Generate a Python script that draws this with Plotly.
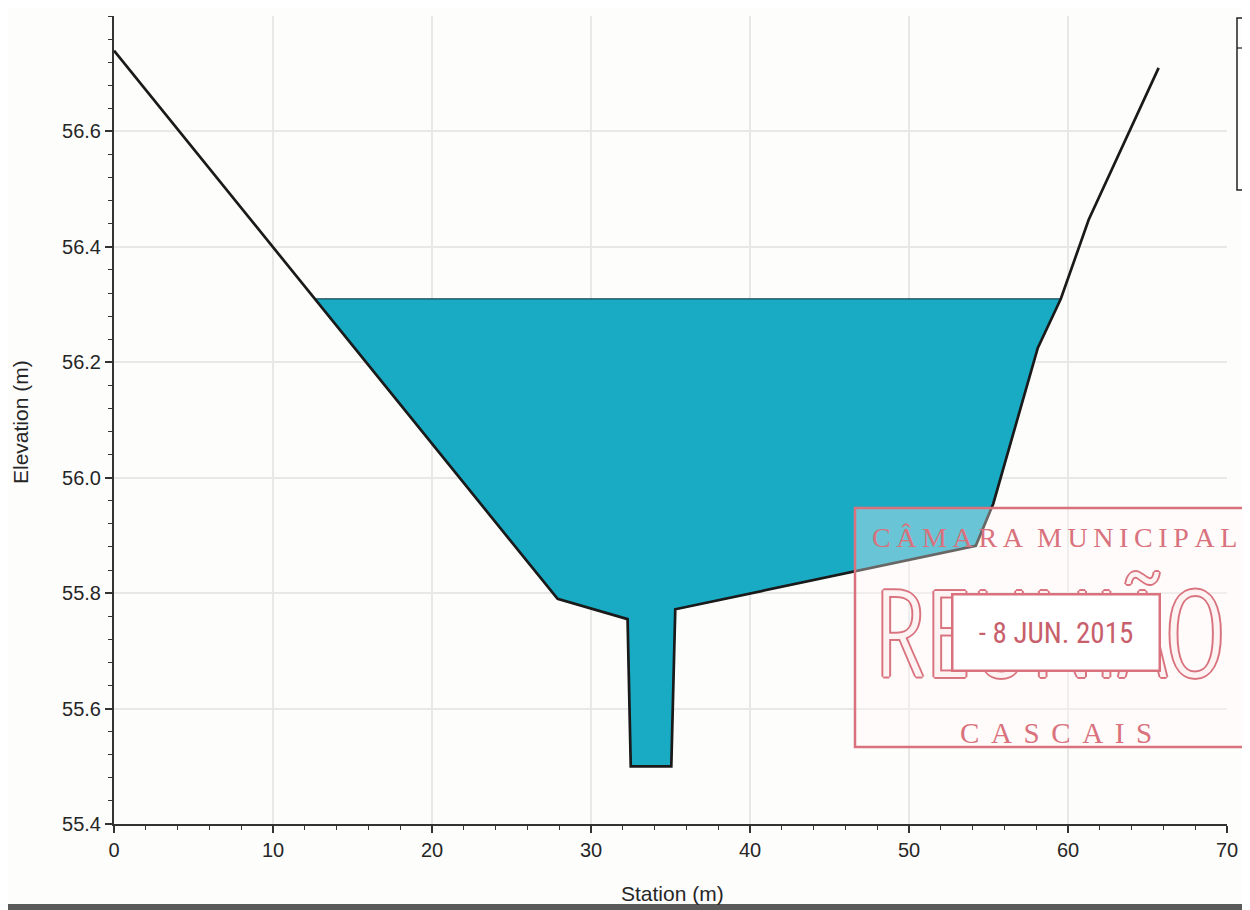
import plotly.graph_objects as go

# ---- data ----
station = [0.0, 27.9, 32.3, 32.5, 35.05, 35.3, 54.2, 55.3, 58.1, 59.55, 61.3, 65.7]
elevation = [56.74, 55.79, 55.755, 55.50, 55.50, 55.772, 55.882, 55.955, 56.225, 56.31, 56.447, 56.71]
water_surface = 56.31

x_ticks = [0, 10, 20, 30, 40, 50, 60, 70]
y_ticks = [55.4, 55.6, 55.8, 56.0, 56.2, 56.4, 56.6]

# ---- water polygon from terrain & WS ----
def crossings(xs, ys, ws):
    pts = []
    for i in range(len(xs) - 1):
        y0, y1 = ys[i], ys[i + 1]
        if (y0 > ws >= y1) or (y0 <= ws < y1):
            t = (ws - y0) / (y1 - y0)
            pts.append((i, xs[i] + t * (xs[i + 1] - xs[i])))
    return pts

cr = crossings(station, elevation, water_surface)
(i0, xl), (i1, xr) = cr[0], cr[-1]
wx = [xl] + station[i0 + 1:i1 + 1] + [xr, xl]
wy = [water_surface] + elevation[i0 + 1:i1 + 1] + [water_surface, water_surface]

fig = go.Figure()
fig.add_trace(go.Scatter(x=wx, y=wy, fill="toself", fillcolor="#1aabc4",
                         mode="lines", line=dict(color="#1d4a55", width=1.2),
                         hoverinfo="skip", showlegend=False))
fig.add_trace(go.Scatter(x=station, y=elevation, mode="lines",
                         line=dict(color="#1a1a1a", width=2.7), showlegend=False))

# page is offset by the default 8px body margin
OFF = 8
W, H = 1250 - OFF, 910 - OFF
L, R, T, B = 114, 1227, 16, 824          # plot area in page pixels
def px(x):
    return (x - L) / (R - L)
def py(y):
    return (B - y) / (B - T)

tickfont = dict(family="Liberation Sans, Arial, sans-serif", size=20, color="#262626")
fig.update_xaxes(range=[0, 70], tickvals=x_ticks, ticktext=[str(v) for v in x_ticks],
                 ticks="outside", ticklen=7, tickwidth=1.5, tickcolor="#333",
                 minor=dict(dtick=2, ticks="outside", ticklen=4, tickwidth=1.3, tickcolor="#333",
                            showgrid=False),
                 showline=True, linecolor="#333", linewidth=2,
                 showgrid=True, gridcolor="#e8e8e8", gridwidth=1.5,
                 zeroline=False, tickfont=tickfont)
fig.update_yaxes(range=[55.4, 56.8], tickvals=y_ticks, ticktext=[f"{v:.1f}" for v in y_ticks],
                 ticks="outside", ticklen=7, tickwidth=1.5, tickcolor="#333",
                 minor=dict(dtick=0.04, tick0=55.4, ticks="outside", ticklen=4, tickwidth=1.3,
                            tickcolor="#333", showgrid=False),
                 showline=True, linecolor="#333", linewidth=2,
                 showgrid=True, gridcolor="#e8e8e8", gridwidth=1.5,
                 zeroline=False, tickfont=tickfont)

stamp = "#d9727d"
shapes = [
    # legend box (cropped at the right edge)
    dict(type="rect", xref="paper", yref="paper", x0=px(1237), x1=px(1262), y0=py(190), y1=py(18),
         line=dict(color="#222", width=1.5)),
    dict(type="line", xref="paper", yref="paper", x0=px(1237), x1=px(1262), y0=py(48), y1=py(48),
         line=dict(color="#222", width=1.2)),
    # stamp frame
    dict(type="rect", xref="paper", yref="paper", x0=px(855), x1=px(1248), y0=py(747), y1=py(508),
         line=dict(color=stamp, width=2.5), fillcolor="rgba(255,245,245,0.35)", layer="above"),
    # scanner edge
    dict(type="rect", xref="paper", yref="paper", x0=px(-5), x1=px(1260), y0=py(912), y1=py(904),
         line=dict(width=0), fillcolor="#5a5a5a", layer="above"),
]

outline = ", ".join(f"{a}px {b}px 0 {stamp}" for a, b in
                    [(-1, -1), (1, -1), (-1, 1), (1, 1), (0, 2), (2, 0), (0, -2), (-2, 0)])

def ann(text, x, y, font, **kw):
    return dict(text=text, x=px(x), y=py(y), xref="paper", yref="paper", showarrow=False,
                xanchor="center", yanchor="middle", font=font, **kw)

annotations = [
    ann("Station (m)", 672, 893, dict(family="Liberation Sans, Arial, sans-serif", size=21, color="#262626")),
    ann("Elevation (m)", 20, 422, dict(family="Liberation Sans, Arial, sans-serif", size=21, color="#262626"),
        textangle=-90),
    ann("REUNIÃO", 1050, 630, dict(family="Open Sans Condensed Light, DejaVu Sans Condensed, sans-serif",
                                   size=120, color="rgba(255,250,250,0.95)", shadow=outline)),
    ann("C\u2009Â\u2009M\u2009A\u2009R\u2009A\u2002M\u2009U\u2009N\u2009I\u2009C\u2009I\u2009P\u2009A\u2009L",
        1054, 537, dict(family="Liberation Serif, serif", size=28, color=stamp)),
    ann("C\u2009\u2009A\u2009\u2009S\u2009\u2009C\u2009\u2009A\u2009\u2009I\u2009\u2009S", 1056, 733,
        dict(family="Liberation Serif, serif", size=29, color=stamp)),
    ann("- 8 JUN. 2015", 1056, 632, dict(family="Roboto Condensed, DejaVu Sans Condensed, sans-serif",
                                         size=29, color="#c8606b"),
        bgcolor="#ffffff", bordercolor=stamp, borderwidth=2.5, width=205, height=74, borderpad=0),
]

fig.update_layout(width=W, height=H,
                  margin=dict(l=L - OFF, r=W - (R - OFF), t=T - OFF, b=H - (B - OFF)),
                  paper_bgcolor="#fdfdfc", plot_bgcolor="#fdfdfc",
                  shapes=shapes, annotations=annotations, showlegend=False)

fig.write_html("out.html")
